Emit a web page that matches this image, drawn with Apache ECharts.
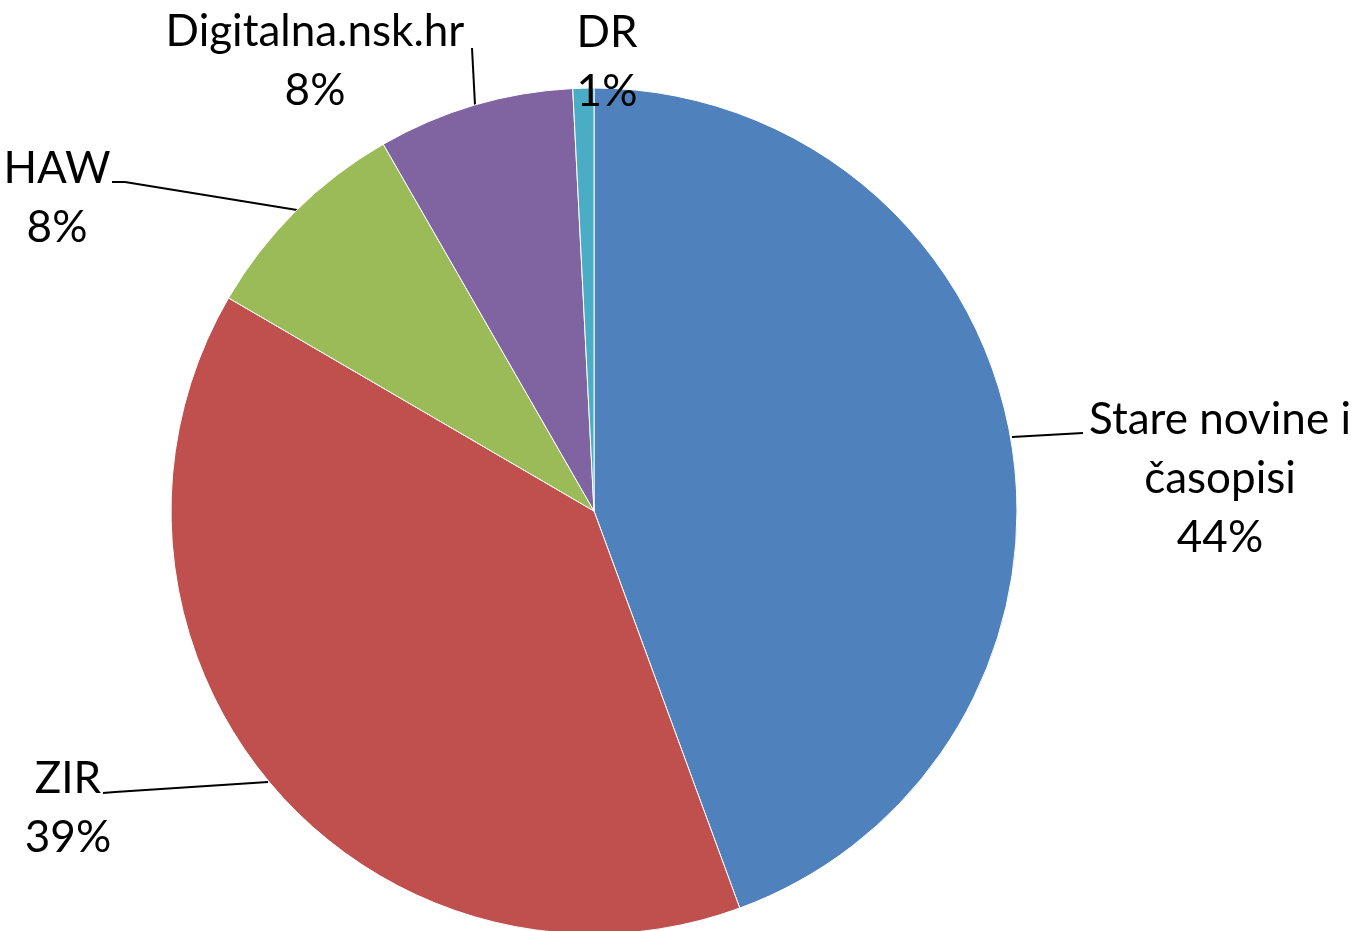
<!DOCTYPE html>
<html>
<head>
<meta charset="utf-8">
<script src="https://cdn.jsdelivr.net/npm/echarts@6/dist/echarts.min.js"></script>
<style>
  html, body { margin: 0; padding: 0; background: #fff; }
  #chart { width: 1356px; height: 931px; }
</style>
</head>
<body>
<div id="chart"></div>
<script>
// sources, clockwise from 12 o'clock
const categories = ['Stare novine i časopisi', 'ZIR', 'HAW', 'Digitalna.nsk.hr', 'DR'];
const shares = [44.4, 39.0, 8.3, 7.5, 0.8];
const colors = ['#4F81BD', '#C0504D', '#9BBB59', '#8064A2', '#4BACC6'];

// where each label sits (center) and its leader line
const labelSpots = [
  { x: 1220, y: 479, line: [[1012, 437], [1083, 433]] },
  { x: 68, y: 808, line: [[268, 782], [115, 792], [103, 793]] },
  { x: 57, y: 198, line: [[297, 210], [125, 182], [112, 182]] },
  { x: 315, y: 61, line: [[475, 105], [472, 48]] },
  { x: 607, y: 62, line: null }
];

const chart = echarts.init(document.getElementById('chart'));

const option = {
  animation: false,
  series: [
    {
      type: 'pie',
      center: [594, 511],
      radius: 423,
      startAngle: 90,
      clockwise: true,
      itemStyle: { borderColor: '#fff', borderWidth: 1 },
      label: {
        show: true,
        position: 'outside',
        color: '#000',
        fontFamily: 'Lato',
        fontSize: 44,
        lineHeight: 59,
        align: 'center',
        overflow: 'none',
        formatter: function (p) {
          let name = p.name;
          if (name.length > 16) name = name.replace(' časopisi', '\nčasopisi');
          return name + '\n' + Math.round(p.percent) + '%';
        }
      },
      labelLine: {
        show: true,
        lineStyle: { color: '#000', width: 2 }
      },
      labelLayout: function (params) {
        const s = labelSpots[params.dataIndex];
        const res = { x: s.x, y: s.y, align: 'center', verticalAlign: 'middle' };
        res.labelLinePoints = s.line ? s.line : [[s.x, s.y], [s.x, s.y]];
        return res;
      },
      data: categories.map(function (name, i) {
        return { name: name, value: shares[i], itemStyle: { color: colors[i] } };
      })
    }
  ]
};

chart.setOption(option);
</script>
</body>
</html>
